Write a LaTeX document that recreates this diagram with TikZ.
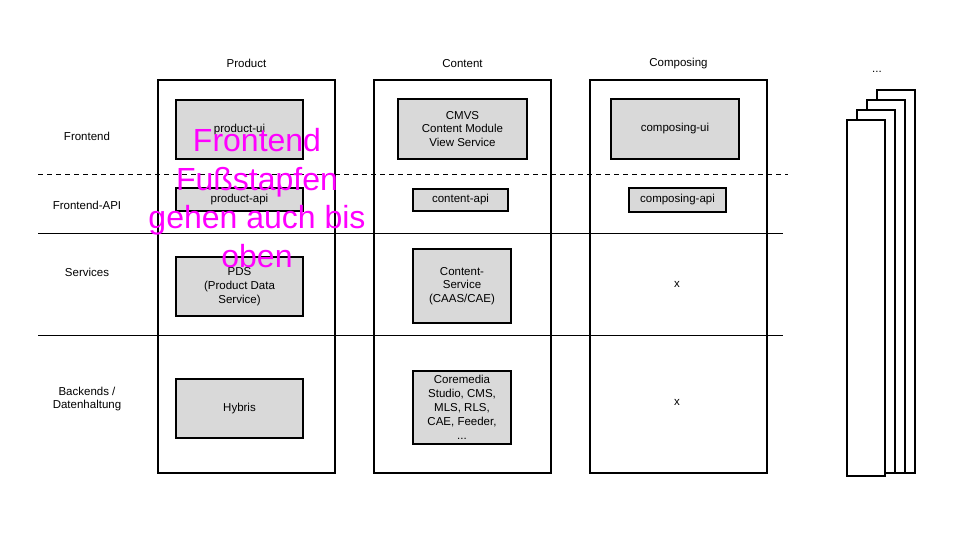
\documentclass[tikz,border=0pt]{standalone}
\usepackage{fontspec}
\setmainfont{Liberation Sans}
\usepackage{xcolor}
\usetikzlibrary{calc}

\definecolor{boxgray}{RGB}{217,217,217}
\definecolor{notemagenta}{RGB}{255,0,255}

\tikzset{
  lbl/.style={font=\fontsize{11.5}{13.8}\selectfont, align=center, inner sep=0pt},
  comp/.style={lbl, draw, line width=1.6pt, fill=boxgray},
  column/.style={draw, line width=1.2pt, inner sep=0pt},
  stack/.style={draw, line width=1.6pt, fill=white}
}

\begin{document}
\begin{tikzpicture}[x=1pt,y=-1pt]

        \useasboundingbox (0,0) rectangle (960,540);

        % Columns
        \node[column, minimum width=177pt, minimum height=393pt] (product) at (246.5,276.5) {};
        \node[column, minimum width=177pt, minimum height=393pt] (content) at (462.5,276.5) {};
        \node[column, minimum width=177pt, minimum height=393pt] (composing) at (678.5,276.5) {};
        \node[lbl] at ($(product.north)+(0,-16)$) {Product};
        \node[lbl] at ($(content.north)+(0,-16)$) {Content};
        \node[lbl] at ($(composing.north)+(0,-16)$) {Composing};

        % Rows
        \draw[line width=0.9pt, dash pattern=on 5pt off 4pt] (38,174) -- (788,174);
        \draw[line width=0.9pt] (38,233) -- (783,233);
        \draw[line width=0.9pt] (38,335) -- (783,335);
        \node[lbl] (frontend) at (87,136) {Frontend};
        \node[lbl] (frontendapi) at (87,205) {Frontend-API};
        \node[lbl] (services) at (87,272) {Services};
        \node[lbl] (backends) at (87,399) {Backends /\\Datenhaltung};

        % Product
        \node[comp, minimum width=127pt, minimum height=59pt] (productui) at (239.5,129.5) {product-ui};
        \node[comp, minimum width=127pt, minimum height=23pt] (productapi) at (239.5,199.5) {product-api};
        \node[comp, minimum width=127pt, minimum height=59pt] (pds) at (239.5,286.5) {PDS\\(Product Data\\Service)};
        \node[comp, minimum width=127pt, minimum height=59pt] (hybris) at (239.5,408.5) {Hybris};

        % Content
        \node[comp, minimum width=129pt, minimum height=60pt] (cmvs) at (462.5,129) {CMVS\\Content Module\\View Service};
        \node[comp, minimum width=95pt, minimum height=22pt] (contentapi) at (460.5,200) {content-api};
        \node[comp, minimum width=98pt, minimum height=74pt] (contentservice) at (462,286) {Content-\\Service\\(CAAS/CAE)};
        \node[comp, minimum width=98pt, minimum height=73pt, font=\fontsize{11.5}{14}\selectfont] (coremedia) at (462,407.5) {Coremedia\\Studio, CMS,\\MLS, RLS,\\CAE, Feeder,\\...};

        % Composing
        \node[comp, minimum width=128pt, minimum height=60pt] (composingui) at (675,129) {composing-ui};
        \node[comp, minimum width=97pt, minimum height=24pt] (composingapi) at (677.5,200) {composing-api};
        \node[lbl] (servicesx) at (677,284) {x};
        \node[lbl] (backendsx) at (677,402) {x};

        % More columns
        \foreach \i in {3,2,1}
        {
          \draw[stack] ($(847,120)+(10*\i,-10*\i)$) rectangle ($(885,473)+(10*\i,0)$);
        }
        \node[stack, minimum width=38pt, minimum height=356pt, inner sep=0pt] (layer) at (866,298) {};
        \node[lbl] (more) at (877,72) {...};

        % Note
        \node[align=center, text=notemagenta, inner sep=0pt,
              font=\fontsize{32}{38.5}\selectfont] (note) at (257,198) {Frontend\\Fußstapfen\\gehen auch bis\\oben};

\end{tikzpicture}
\end{document}
